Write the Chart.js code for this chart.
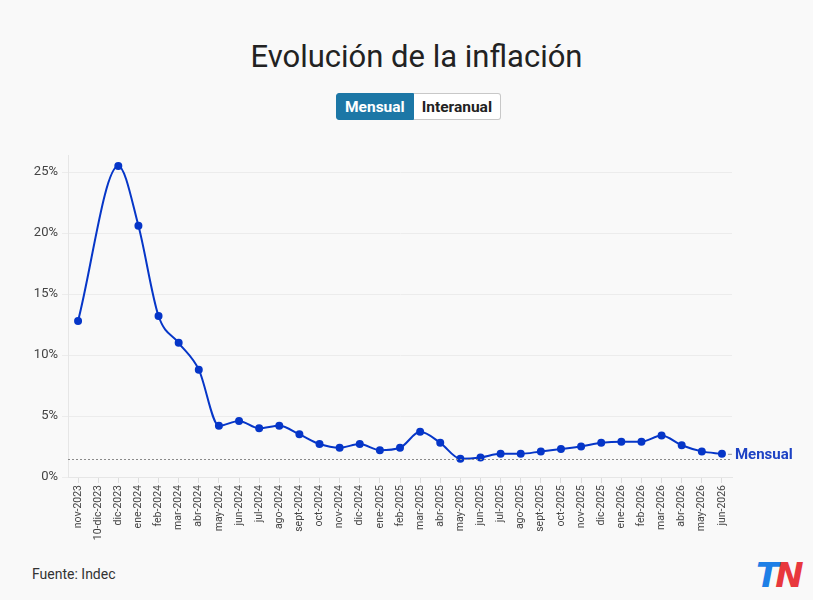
<!DOCTYPE html>
<html lang="es">
<head>
<meta charset="utf-8">
<title>Evolución de la inflación</title>
<script src="https://cdn.jsdelivr.net/npm/chart.js@4"></script>
<style>
  html,body{margin:0;padding:0;background:#f9f9f9;font-family:Roboto,"Noto Sans",sans-serif;}
  #wrap{position:relative;width:813px;height:600px;overflow:hidden;}
  h1{position:absolute;top:38px;left:10px;width:813px;margin:0;text-align:center;font-weight:400;font-size:31px;color:#222;}
  .btns{position:absolute;top:93px;left:336px;display:flex;}
  .btns button{font-family:Roboto,sans-serif;font-weight:700;font-size:15.5px;height:27px;padding:0 8px;border:1px solid #c8c8c8;background:#fff;color:#222;cursor:pointer;}
  .btns .on{background:#1c77a6;color:#fff;border-color:#1c77a6;border-radius:3px 0 0 3px;}
  .btns .off{border-radius:0 3px 3px 0;border-left:none;}
  #box{position:absolute;left:0;top:140px;width:813px;height:410px;}
  .src{position:absolute;left:32px;top:566px;font-size:14px;color:#333;}
  .logo{position:absolute;left:756px;top:555px;font:italic 900 34px "DejaVu Sans",sans-serif;letter-spacing:-4px;}
</style>
</head>
<body>
<div id="wrap">
  <h1>Evolución de la inflación</h1>
  <div class="btns"><button class="on">Mensual</button><button class="off">Interanual</button></div>
  <div id="box"><canvas id="chart"></canvas></div>
  <div class="src">Fuente: Indec</div>
  <div class="logo"><span style="color:#1e7fe6">T</span><span style="color:#e8383d">N</span></div>
</div>
<script>
const meses = ['nov-2023','10-dic-2023','dic-2023','ene-2024','feb-2024','mar-2024','abr-2024','may-2024','jun-2024','jul-2024','ago-2024','sept-2024','oct-2024','nov-2024','dic-2024','ene-2025','feb-2025','mar-2025','abr-2025','may-2025','jun-2025','jul-2025','ago-2025','sept-2025','oct-2025','nov-2025','dic-2025','ene-2026','feb-2026','mar-2026','abr-2026','may-2026','jun-2026'];
const mensual = [12.8,null,25.5,20.6,13.2,11.0,8.8,4.2,4.6,4.0,4.2,3.5,2.7,2.4,2.7,2.2,2.4,3.7,2.8,1.5,1.6,1.9,1.9,2.1,2.3,2.5,2.8,2.9,2.9,3.4,2.6,2.1,1.9];
const lineaRef = 1.5;
const azul = '#0636c8';

// linea punteada y etiqueta final
const extras = {
  id:'extras',
  afterDatasetsDraw(c){
    const {ctx, chartArea:a, scales:{x,y}} = c;
    ctx.save();
    const yr = Math.round(y.getPixelForValue(lineaRef)) + 0.5;
    ctx.strokeStyle = '#8a8a8a'; ctx.lineWidth = 1; ctx.setLineDash([2,2]);
    ctx.beginPath(); ctx.moveTo(a.left, yr); ctx.lineTo(a.right, yr); ctx.stroke();
    ctx.setLineDash([]);
    const i = mensual.length-1;
    const px = x.getPixelForValue(i), py = y.getPixelForValue(mensual[i]);
    ctx.strokeStyle = '#999';
    ctx.beginPath(); ctx.moveTo(px+6, py+0.5); ctx.lineTo(px+10, py+0.5); ctx.stroke();
    ctx.fillStyle = '#1d42c4'; ctx.font = 'bold 15px Roboto'; ctx.textBaseline = 'middle';
    ctx.fillText('Mensual', px+13, py+1.5);
    ctx.restore();
  }
};

new Chart(document.getElementById('chart'), {
  type:'line',
  data:{labels:meses, datasets:[{
    label:'Mensual', data:mensual, borderColor:azul, backgroundColor:azul,
    borderWidth:2, pointRadius:3, pointHoverRadius:5, spanGaps:true,
    cubicInterpolationMode:'monotone'
  }]},
  options:{
    responsive:true, maintainAspectRatio:false, animation:false,
    layout:{padding:{top:15,right:81,left:0,bottom:0}},
    plugins:{legend:{display:false}, tooltip:{enabled:true}},
    scales:{
      x:{
        offset:true,
        grid:{drawOnChartArea:false, color:'#ddd', tickLength:6},
        border:{color:'#e6e6e6'},
        ticks:{autoSkip:false, minRotation:90, maxRotation:90, color:'#444', font:{family:'Roboto', size:10.5}, padding:2},
        afterFit(s){ s.height = 73; }
      },
      y:{
        min:0, max:26.4,
        grid:{color:'#ececec', tickLength:6},
        border:{color:'#e6e6e6'},
        ticks:{stepSize:5, color:'#444', font:{family:'Roboto', size:13}, padding:4, callback:v=>v+'%'},
        afterBuildTicks(s){ s.ticks = s.ticks.filter(t=>t.value%5===0); },
        afterFit(s){ s.width = 68; }
      }
    }
  },
  plugins:[extras]
});
</script>
</body>
</html>
